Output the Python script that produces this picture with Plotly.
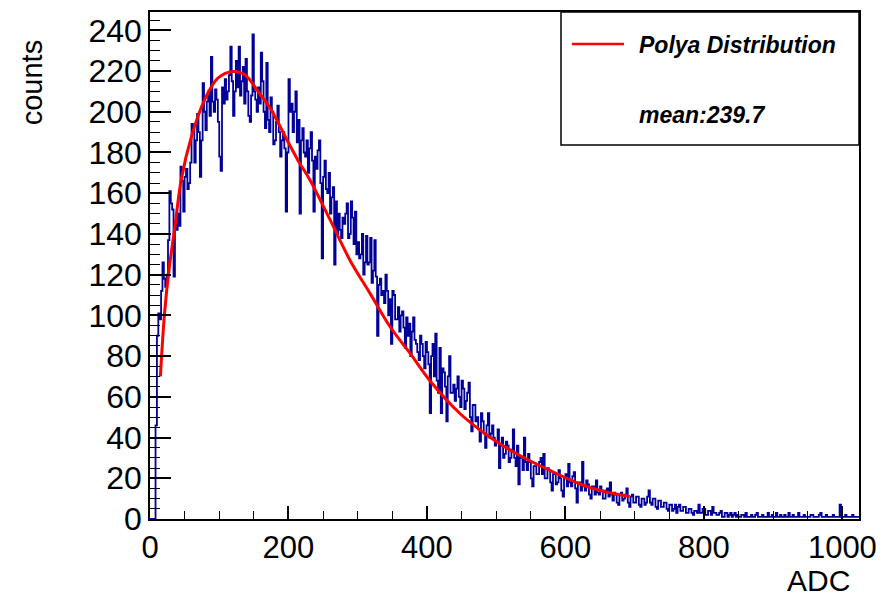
import plotly.graph_objects as go

# Histogram: counts per ADC bin (bin width 2, range 0-1024)
bin_width = 2
counts = [
    # 0-40
    0, 0, 0, 0, 46, 90, 101, 98, 112, 126, 118, 114, 120, 137, 161, 155, 152, 119, 146, 142,
    # 40-80
    150, 144, 173, 166, 151, 168, 172, 162, 165, 175, 194, 191, 175, 186, 199, 190, 168, 186, 214, 200,
    # 80-120
    191, 205, 210, 198, 227, 205, 200, 211, 206, 195, 178, 171, 212, 204, 216, 206, 210, 218, 232, 215,
    # 120-160
    198, 210, 225, 212, 232, 208, 215, 222, 204, 226, 210, 198, 195, 208, 238, 210, 206, 200, 212, 204,
    # 160-200
    229, 215, 200, 192, 224, 196, 190, 207, 200, 184, 186, 195, 203, 190, 178, 186, 190, 182, 151, 180,
    # 200-240
    216, 200, 204, 190, 200, 210, 185, 196, 150, 186, 192, 180, 178, 186, 170, 182, 190, 176, 151, 178,
    # 240-280
    172, 181, 186, 165, 128, 168, 176, 162, 160, 170, 150, 158, 163, 125, 156, 140, 150, 142, 138, 148,
    # 280-320
    145, 150, 155, 138, 140, 156, 148, 135, 151, 130, 136, 128, 130, 140, 120, 126, 139, 125, 126, 138,
    # 320-360
    116, 122, 137, 119, 90, 115, 118, 110, 112, 106, 120, 112, 100, 108, 86, 112, 110, 98, 98, 104,
    # 360-400
    92, 100, 102, 94, 84, 99, 90, 96, 80, 92, 99, 88, 86, 82, 78, 90, 86, 80, 74, 87,
    # 400-440
    82, 76, 52, 80, 86, 70, 91, 68, 62, 84, 52, 74, 72, 65, 48, 70, 80, 62, 62, 66,
    # 440-480
    58, 64, 70, 60, 55, 68, 64, 54, 58, 62, 67, 50, 43, 56, 56, 48, 50, 44, 38, 52,
    # 480-520
    48, 42, 35, 46, 52, 40, 42, 46, 40, 36, 38, 44, 25, 36, 40, 30, 32, 38, 36, 28,
    # 520-560
    30, 34, 44, 30, 26, 36, 17, 30, 30, 24, 40, 28, 24, 32, 28, 20, 16, 26, 26, 22,
    # 560-600
    22, 28, 30, 22, 32, 20, 20, 25, 24, 18, 14, 22, 22, 17, 18, 24, 20, 14, 11, 20,
    # 600-640
    22, 16, 27, 18, 16, 21, 23, 15, 8, 18, 18, 14, 28, 16, 14, 19, 17, 12, 10, 16,
    # 640-680
    16, 12, 19, 13, 12, 16, 14, 10, 10, 14, 15, 11, 18, 12, 9, 13, 12, 8, 7, 12,
    # 680-720
    13, 9, 10, 12, 15, 8, 6, 11, 12, 8, 8, 11, 11, 7, 6, 10, 10, 7, 8, 11,
    # 720-760
    14, 8, 7, 10, 10, 6, 5, 9, 9, 6, 6, 8, 8, 5, 4, 7, 7, 4, 5, 7,
    # 760-800
    3, 6, 7, 4, 4, 6, 6, 3, 3, 5, 5, 3, 2, 4, 4, 3, 7, 3, 3, 5,
    # 800-840
    5, 2, 2, 4, 4, 2, 6, 3, 3, 2, 2, 3, 4, 1, 1, 3, 3, 1, 2, 3,
    # 840-880
    1, 2, 3, 1, 2, 1, 1, 2, 2, 1, 3, 1, 1, 1, 2, 1, 1, 2, 3, 1,
    # 880-920
    1, 1, 2, 1, 1, 1, 3, 1, 1, 2, 1, 1, 3, 1, 1, 2, 1, 1, 2, 1,
    # 920-960
    1, 3, 1, 1, 2, 1, 1, 1, 3, 1, 1, 1, 2, 1, 1, 1, 1, 2, 2, 1,
    # 960-1000
    1, 1, 1, 2, 3, 1, 1, 1, 2, 1, 1, 1, 1, 2, 1, 1, 1, 1, 7, 1,
    # 1000-1024
    1, 1, 2, 1, 1, 1, 1, 2, 1, 1, 1, 1,
]

# Polya fit curve points
fit_x = [15, 21, 28, 36, 45, 60, 79, 98, 120, 137, 156, 175, 195, 214, 231,
         260, 289, 318, 347, 376, 404, 448, 491, 534, 578, 621, 650, 693]
fit_y = [70, 101, 124, 143.5, 166.5, 188, 206, 216.5, 219.8, 218.2, 210, 201,
         188, 176, 166.5, 147, 127, 110.7, 94.3, 81.2, 68, 51.7, 40.2, 31.2,
         23.8, 17.2, 14, 11]

x_ticks = [0, 200, 400, 600, 800, 1000]
y_ticks = [0, 20, 40, 60, 80, 100, 120, 140, 160, 180, 200, 220, 240]

legend_label = "Polya Distribution"
mean_label = "mean:239.7"

hx = [i * bin_width for i in range(len(counts))] + [len(counts) * bin_width]
hy = counts + [counts[-1]]

fig = go.Figure()
fig.add_trace(go.Scatter(
    x=hx, y=hy, mode="lines", line=dict(color="#000099", width=1.8, shape="hv"),
    showlegend=False, hoverinfo="skip"))
fig.add_trace(go.Scatter(
    x=fit_x, y=fit_y, mode="lines", line=dict(color="#ff0000", width=3, shape="spline"),
    showlegend=False))

font_family = "Liberation Sans, Arial, Helvetica, sans-serif"

# page body has an 8px margin, so the figure is 8px smaller than the window
fig.update_layout(
    width=876, height=591,
    margin=dict(l=142, r=25, t=4, b=80),
    paper_bgcolor="white", plot_bgcolor="white",
    font=dict(family=font_family, color="black", size=31),
    xaxis=dict(
        range=[0, 1024], tickvals=x_ticks, ticktext=[str(v) for v in x_ticks],
        ticks="inside", ticklen=13, tickwidth=1.5, tickcolor="black",
        minor=dict(ticks="inside", ticklen=8, dtick=50, tick0=0, tickcolor="black", tickwidth=1),
        showline=True, linecolor="black", linewidth=1.5, mirror=True,
        showgrid=False, zeroline=False, automargin=False,
        tickfont=dict(size=31),
    ),
    yaxis=dict(
        range=[0, 249], tickvals=y_ticks, ticktext=[str(v) for v in y_ticks],
        ticks="inside", ticklen=21, tickwidth=1.5, tickcolor="black",
        minor=dict(ticks="inside", ticklen=10, dtick=5, tick0=0, tickcolor="black", tickwidth=1),
        showline=True, linecolor="black", linewidth=1.5, mirror=True,
        showgrid=False, zeroline=False, automargin=False,
        tickfont=dict(size=32),
    ),
    annotations=[
        dict(text="ADC", xref="paper", yref="paper", x=0.990, y=-0.158,
             xanchor="right", yanchor="bottom", showarrow=False, font=dict(size=30)),
        dict(text="counts", xref="paper", yref="paper", x=-0.166, y=0.860,
             xanchor="center", yanchor="middle", textangle=-90, showarrow=False,
             font=dict(size=29)),
        dict(text="<b><i>" + legend_label + "</i></b>", xref="paper", yref="paper",
             x=0.687, y=0.935, xanchor="left", yanchor="middle", showarrow=False,
             font=dict(size=23)),
        dict(text="<b><i>" + mean_label + "</i></b>", xref="paper", yref="paper",
             x=0.687, y=0.797, xanchor="left", yanchor="middle", showarrow=False,
             font=dict(size=23)),
    ],
    shapes=[
        dict(type="rect", xref="paper", yref="paper", x0=0.5797, x1=1.0, y0=0.7377, y1=1.0,
             line=dict(color="black", width=1.5), fillcolor="white", layer="above"),
        dict(type="line", xref="paper", yref="paper", x0=0.595, x1=0.6685, y0=0.937, y1=0.937,
             line=dict(color="#ff0000", width=2.5)),
    ],
)

fig.write_html("out.html")
